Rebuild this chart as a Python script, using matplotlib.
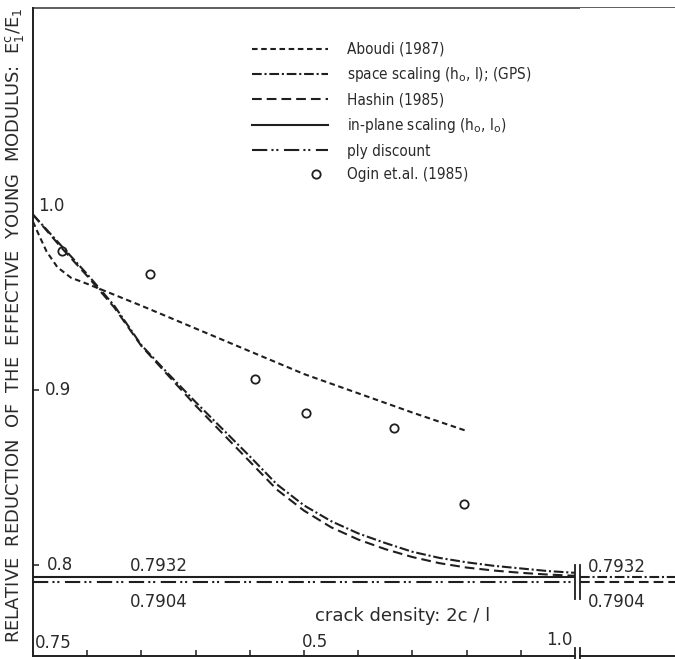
import numpy as np
import matplotlib.pyplot as plt
from matplotlib.legend_handler import HandlerLine2D

plt.rcParams['font.family'] = ['DejaVu Sans']
plt.rcParams['mathtext.fontset'] = 'dejavusans'
plt.rcParams['lines.scale_dashes'] = False

# crack density 2c/l (x) and relative Young modulus E1c/E1 (y)
x_aboudi = [0.0, 0.01, 0.025, 0.045, 0.07, 0.1, 0.2, 0.3, 0.4, 0.5, 0.6, 0.7, 0.8]
y_aboudi = [0.996, 0.989, 0.979, 0.970, 0.964, 0.9605, 0.948, 0.935, 0.922,
            0.909, 0.898, 0.887, 0.8765]

x_model = [0.0, 0.05, 0.1, 0.15, 0.2, 0.25, 0.3, 0.35, 0.4, 0.45, 0.5,
           0.55, 0.6, 0.65, 0.7, 0.75, 0.8, 0.85, 0.9, 0.95, 1.0]
y_gps = [1.0, 0.983, 0.966, 0.948, 0.9255, 0.909, 0.893, 0.8775, 0.862, 0.846,
         0.834, 0.825, 0.818, 0.8125, 0.8075, 0.804, 0.8015, 0.7995, 0.798,
         0.7965, 0.7955]
y_hashin = [1.0, 0.982, 0.965, 0.947, 0.925, 0.908, 0.891, 0.875, 0.859, 0.843,
            0.831, 0.8215, 0.8145, 0.809, 0.8045, 0.801, 0.7985, 0.7968, 0.7955,
            0.7945, 0.7938]

x_ogin = [0.054, 0.216, 0.410, 0.504, 0.666, 0.795]
y_ogin = [0.979, 0.966, 0.906, 0.887, 0.878, 0.835]

inplane_value = 0.7932   # in-plane scaling (constant)
ply_value = 0.7904       # ply discount (constant)
gps_limit = 0.7932       # space scaling for 2c/l -> infinity
hashin_limit = 0.7904    # Hashin for 2c/l -> infinity

ylim = (0.748, 1.118)
ink = '#1f1f1f'
txt = '#2a2a2a'
lw = 1.5


class RightMarker(HandlerLine2D):
    # single legend marker near the right end of the handle
    def create_artists(self, legend, orig_handle, xdescent, ydescent,
                       width, height, fontsize, trans):
        arts = super().create_artists(legend, orig_handle, xdescent, ydescent,
                                      width, height, fontsize, trans)
        line = arts[0]
        x = line.get_xdata()
        line.set_xdata([x[0], x[0] + 0.84 * (x[-1] - x[0]), x[-1]])
        return arts


fig = plt.figure(figsize=(6.75, 6.59), dpi=100)
ax = fig.add_axes([33 / 675, 3 / 659, 542 / 675, 648 / 659])
ax2 = fig.add_axes([580 / 675, 3 / 659, 95 / 675, 648 / 659], sharey=ax)

l_aboudi, = ax.plot(x_aboudi, y_aboudi, color=ink, lw=lw, dashes=(4, 2.6),
                    label='Aboudi (1987)')
l_gps, = ax.plot(x_model, y_gps, color=ink, lw=lw, dashes=(7, 2, 1.5, 2),
                 label=r'space scaling (h$_\mathrm{o}$, l); (GPS)')
l_hashin, = ax.plot(x_model, y_hashin, color=ink, lw=lw, dashes=(7, 3.6),
                    label='Hashin (1985)')
l_inplane = ax.axhline(inplane_value, color=ink, lw=lw,
                       label=r'in-plane scaling (h$_\mathrm{o}$, l$_\mathrm{o}$)')
l_ply = ax.axhline(ply_value, color=ink, lw=lw, dashes=(11, 3, 1.5, 2, 1.5, 4),
                   label='ply discount')
l_ogin, = ax.plot(x_ogin, y_ogin, 'o', ms=6, mfc='none', mec=ink, mew=1.3,
                  label='Ogin et.al. (1985)')

# asymptotic values beyond the axis break
ax2.axhline(gps_limit, color=ink, lw=lw, dashes=(7, 2, 1.5, 2))
ax2.axhline(hashin_limit, color=ink, lw=lw, dashes=(7, 3.6))

ax.set_xlim(0, 1.0)
ax.set_ylim(*ylim)
ax2.set_xlim(0, 1)

for s in ['top', 'right']:
    ax.spines[s].set_visible(False)
for s in ['top', 'right', 'left']:
    ax2.spines[s].set_visible(False)
for s in ['left', 'bottom']:
    ax.spines[s].set_color(ink)
    ax.spines[s].set_linewidth(1.4)
ax2.spines['bottom'].set_color(ink)
ax2.spines['bottom'].set_linewidth(1.4)

# continuous top frame line
ax.axhline(ylim[1], 0, (675 - 33) / 542, color='#444444', lw=1.2, clip_on=False)

ax.set_xticks(np.arange(0.1, 1.0, 0.1))
ax.set_yticks([0.8, 0.9])
ax.tick_params(direction='in', length=4, width=1.1, color=ink,
               labelbottom=False, labelleft=False)
ax2.set_xticks([])
ax2.tick_params(left=False, labelleft=False)

# break marks
for a, xv in ((ax, 1.0), (ax2, 0.0)):
    a.plot([xv, xv], [0.7805, 0.8], color=ink, lw=1.3, clip_on=False)
    a.plot([xv, xv], [0.7455, 0.7525], color=ink, lw=1.3, clip_on=False)

tk = dict(color=txt, fontsize=12, va='center')
ax.text(0.009, 1.005, '1.0', ha='left', **tk)
ax.text(0.022, 0.9, '0.9', ha='left', **tk)
ax.text(0.026, 0.8, '0.8', ha='left', **tk)
ax.text(0.004, 0.7555, '0.75', ha='left', **tk)
ax.text(0.496, 0.756, '0.5', ha='left', **tk)
ax.text(0.996, 0.757, '1.0', ha='right', **tk)
ax.text(0.179, 0.7994, '0.7932', ha='left', **tk)
ax.text(0.179, 0.7789, '0.7904', ha='left', **tk)
ax2.text(0.084, 0.7989, '0.7932', ha='left', **tk)
ax2.text(0.084, 0.7789, '0.7904', ha='left', **tk)
ax.text(0.52, 0.7709, 'crack density: 2c / l', ha='left', color=txt,
        fontsize=13, va='center')

fig.text(15 / 675, 0.506,
         r'RELATIVE  REDUCTION  OF  THE  EFFECTIVE  YOUNG  MODULUS:  E$_1^\mathrm{c}$/E$_1$',
         rotation=90, ha='center', va='center', fontsize=12.9, color=txt)

handles = [l_aboudi, l_gps, l_hashin, l_inplane, l_ply, l_ogin]
leg = ax.legend(handles=handles, loc='upper left', frameon=False,
                bbox_to_anchor=(252 / 675, 1 - 42 / 659),
                bbox_transform=fig.transFigure, borderpad=0, borderaxespad=0,
                prop={'size': 11, 'stretch': 'condensed'},
                handlelength=5.0, handletextpad=1.25,
                labelspacing=0.55, numpoints=1,
                handler_map={l_ogin: RightMarker(numpoints=1)})
for t in leg.get_texts():
    t.set_color(txt)

fig.savefig('out.png', dpi=100, facecolor='white')
